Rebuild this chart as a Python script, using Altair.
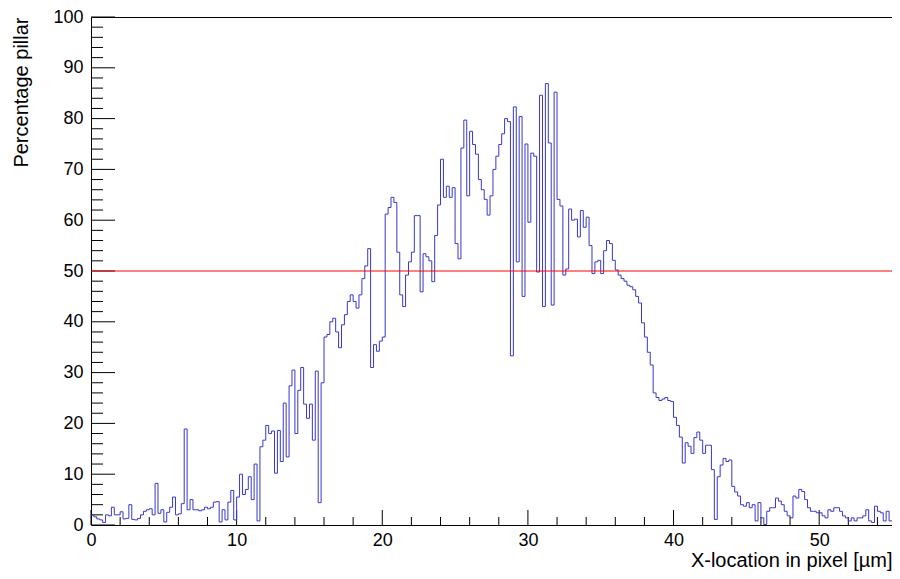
import altair as alt
import pandas as pd

# ---------------- data ----------------
BIN_WIDTH = 0.2
X_MAX = 55

pillar_pct = [
    2.0, 1.6, 1.2, 1.0, 0.5, 2.0, 1.8, 3.5, 2.0, 2.0,
    2.6, 1.2, 1.3, 4.0, 1.1, 1.0, 1.3, 2.0, 2.7, 3.0,
    3.2, 2.0, 8.2, 2.3, 3.0, 0.6, 2.5, 3.5, 5.5, 2.0,
    2.2, 4.2, 18.9, 3.0, 5.0, 3.0, 3.0, 2.8, 3.0, 3.5,
    3.2, 3.5, 4.5, 4.6, 0.6, 3.0, 1.0, 4.5, 6.8, 1.0,
    5.5, 10.0, 6.0, 7.0, 9.5, 5.0, 12.0, 0.8, 15.4, 16.7,
    19.6, 18.0, 18.5, 10.2, 18.6, 12.5, 24.0, 13.4, 27.4, 30.5,
    18.0, 26.5, 31.0, 23.8, 21.0, 23.8, 16.7, 30.3, 4.4, 28.0,
    37.0, 37.5, 40.0, 40.7, 38.0, 34.9, 39.4, 41.4, 44.0, 45.3,
    44.0, 42.7, 45.3, 48.5, 51.0, 54.4, 31.0, 35.5, 34.2, 36.2,
    37.0, 61.2, 62.5, 64.5, 63.5, 53.7, 45.3, 43.0, 49.2, 51.8,
    53.7, 60.9, 60.9, 45.9, 53.4, 52.8, 52.0, 47.9, 57.0, 63.0,
    72.0, 64.5, 66.7, 64.5, 66.4, 55.4, 52.4, 74.2, 79.7, 64.8,
    77.5, 74.9, 73.0, 68.0, 66.0, 64.1, 61.0, 64.8, 70.0, 72.6,
    74.9, 77.0, 80.0, 79.4, 33.3, 82.3, 51.8, 80.4, 45.0, 75.0,
    59.6, 73.2, 72.6, 49.8, 84.6, 43.0, 86.9, 75.2, 43.3, 85.2,
    64.1, 62.8, 49.2, 50.4, 62.2, 60.0, 60.2, 56.7, 61.9, 58.6,
    60.6, 55.0, 49.5, 51.8, 52.1, 49.5, 54.0, 56.0, 55.4, 52.1,
    50.2, 49.2, 48.5, 48.0, 47.2, 46.9, 46.3, 45.0, 43.7, 39.8,
    37.0, 34.0, 31.5, 26.0, 25.1, 24.5, 24.8, 25.1, 24.5, 24.3,
    21.2, 19.6, 17.3, 12.2, 16.2, 15.5, 14.1, 17.2, 18.3, 16.7,
    14.1, 15.7, 15.7, 10.9, 1.1, 9.5, 11.8, 13.1, 12.5, 12.8,
    7.6, 6.5, 5.7, 4.0, 3.7, 4.4, 3.4, 4.0, 0.8, 4.4,
    1.4, 0.1, 2.7, 3.4, 3.4, 5.3, 4.7, 4.0, 2.7, 1.8,
    1.4, 5.7, 5.3, 7.0, 6.6, 5.0, 3.4, 2.7, 2.7, 2.4,
    2.4, 1.8, 1.4, 3.0, 2.7, 3.4, 3.4, 2.7, 1.8, 1.4,
    0.8, 1.4, 0.8, 1.4, 1.4, 1.8, 3.0, 0.8, 0.5, 3.7,
    2.7, 2.4, 0.8, 2.7, 0.8,
]

threshold = [50]

x_major = [0, 10, 20, 30, 40, 50]
x_minor = [v for v in range(2, 55, 2) if v % 10]
y_major = list(range(0, 101, 10))
y_minor = [v for v in range(2, 100, 2) if v % 10]

x_title = "X-location in pixel [µm]"
y_title = "Percentage pillar"

# ---------------- tables ----------------
edges = [i * BIN_WIDTH for i in range(len(pillar_pct))] + [X_MAX]
hist_df = pd.DataFrame({"x": edges, "pct": pillar_pct + [pillar_pct[-1]]})

W, H = 801, 508
FONT = "Liberation Sans"

xs = alt.Scale(domain=[0, X_MAX], nice=False, zero=False)
ys = alt.Scale(domain=[0, 100], nice=False, zero=False)

x_axis = alt.Axis(
    values=x_major, title=x_title, ticks=False, domain=False, grid=False,
    labelFont=FONT, labelFontSize=18, labelColor="black", labelPadding=6,
    labelFlush=False, format="d",
    titleFont=FONT, titleFontSize=20, titleFontWeight="normal", titleColor="black",
    titleAnchor="end", titleAlign="right", titleBaseline="alphabetic", titleY=41,
)
y_axis = alt.Axis(
    values=y_major, title=y_title, ticks=False, domain=False, grid=False,
    labelFont=FONT, labelFontSize=18, labelColor="black", labelPadding=8,
    labelFlush=False, format="d",
    titleFont=FONT, titleFontSize=20, titleFontWeight="normal", titleColor="black",
    titleAnchor="end", titleAlign="right", titleAngle=-90,
    titleBaseline="alphabetic", titleX=-64, titleY=0,
)

hist = alt.Chart(hist_df).mark_line(
    interpolate="step-after", color="#3838c8", strokeWidth=1, clip=True
).encode(
    x=alt.X("x:Q", scale=xs, axis=x_axis, title=x_title),
    y=alt.Y("pct:Q", scale=ys, axis=y_axis, title=y_title),
)

red = alt.Chart(pd.DataFrame({"v": threshold})).mark_rule(
    color="#ff0000", strokeWidth=1
).encode(y=alt.Y("v:Q", scale=ys, axis=y_axis, title=y_title))


def xticks(vals, length):
    return alt.Chart(pd.DataFrame({"t": vals})).mark_rule(
        color="black", strokeWidth=1
    ).encode(
        x=alt.X("t:Q", scale=xs, axis=x_axis, title=x_title),
        y=alt.value(H), y2=alt.value(H - length),
    )


def yticks(vals, length):
    return alt.Chart(pd.DataFrame({"t": vals})).mark_rule(
        color="black", strokeWidth=1
    ).encode(
        y=alt.Y("t:Q", scale=ys, axis=y_axis, title=y_title),
        x=alt.value(0), x2=alt.value(length),
    )


chart = alt.layer(
    xticks(x_major, 15), xticks(x_minor, 8),
    yticks(y_major, 24), yticks(y_minor, 12),
    hist, red,
).properties(
    width=W, height=H,
    padding={"left": 83, "top": 9, "right": 0, "bottom": 46},
    autosize=alt.AutoSizeParams(type="none"),
    background="white",
).configure_view(stroke="black", strokeWidth=1)

chart.save("out.html", embed_options={"renderer": "svg", "actions": False})
